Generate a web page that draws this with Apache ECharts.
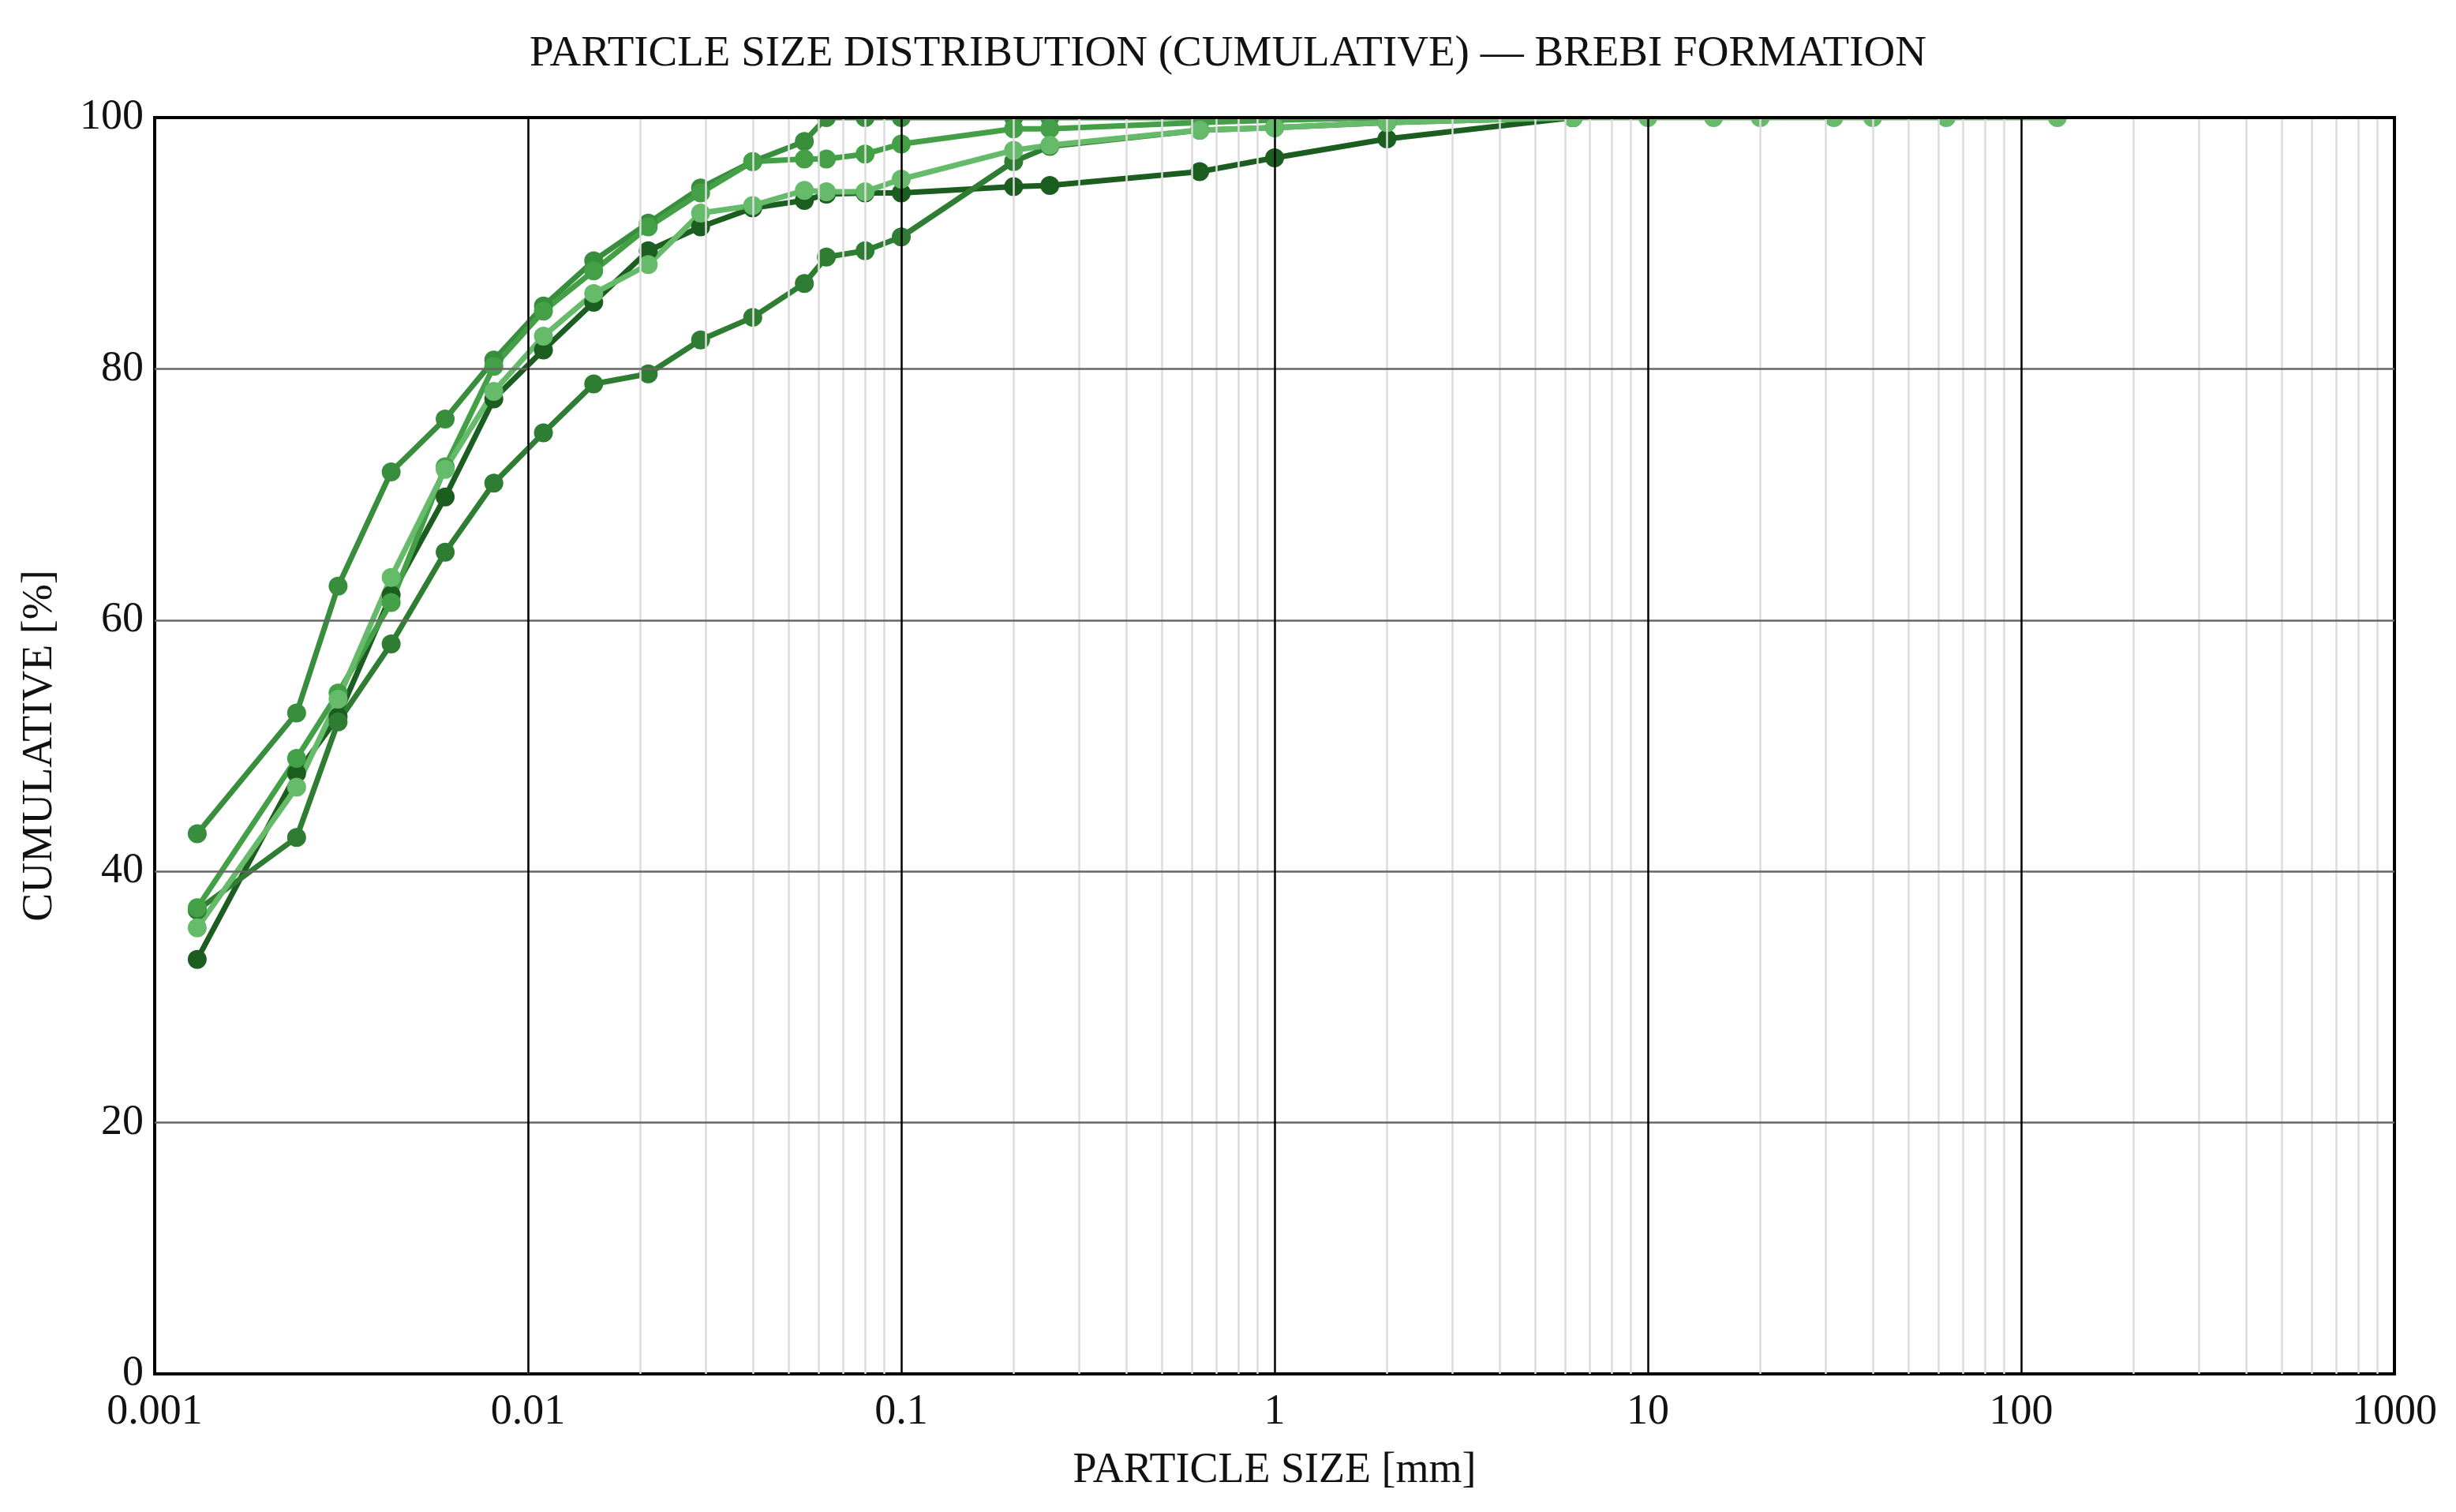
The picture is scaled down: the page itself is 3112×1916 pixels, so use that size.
<!DOCTYPE html>
<html>
<head>
<meta charset="utf-8">
<title>Particle size distribution</title>
<script src="https://cdn.jsdelivr.net/npm/echarts@6/dist/echarts.min.js"></script>
<style>
  html, body { margin: 0; padding: 0; background: #fff; }
  #chart { width: 3112px; height: 1916px; }
</style>
</head>
<body>
<div id="chart"></div>
<script>
// sieve / hydrometer sizes [mm]
const sizes = [0.0013, 0.0024, 0.0031, 0.0043, 0.006, 0.0081, 0.011, 0.015, 0.021, 0.029, 0.04, 0.055, 0.063, 0.08, 0.1, 0.2, 0.25, 0.63, 1, 2, 6.3, 10, 15, 20, 31.5, 40, 63, 125];

// cumulative passing [%] per sample (null = not measured)
const sampleA = [33.0, 47.8, 52.3, 62.0, 69.8, 77.6, 81.5, 85.3, 89.4, 91.3, 92.8, 93.4, 93.9, 94.0, 94.0, 94.5, 94.6, 95.7, 96.8, 98.3, 100, null, null, null, null, null, null, null];
const sampleB = [43.0, 52.6, 62.7, 71.8, 76.0, 80.7, 85.0, 88.6, 91.6, 94.4, 96.5, 98.1, 100, 100, 100, 100, 100, 100, 100, 100, 100, null, null, null, null, null, null, null];
const sampleC = [36.9, 42.7, 51.9, 58.1, 65.4, 70.9, 74.9, 78.8, 79.6, 82.3, 84.1, 86.8, 88.9, 89.4, 90.5, 96.5, 97.7, 99.0, 99.2, 99.6, 100, null, null, null, null, null, null, null];
const sampleD = [37.1, 49.0, 54.2, 61.4, 72.2, 80.2, 84.6, 87.8, 91.3, 94.0, 96.5, 96.7, 96.7, 97.1, 97.9, 99.1, 99.1, 99.6, 99.8, 100, 100, null, null, null, null, null, null, null];
const sampleE = [35.5, 46.7, 53.7, 63.4, 72.0, 78.2, 82.6, 86.0, 88.3, 92.4, 93.0, 94.2, 94.1, 94.1, 95.1, 97.4, 97.8, 99.0, 99.2, 99.6, 100, 100, 100, 100, 100, 100, 100, 100];

const xTickLabels = ['0.001', '0.01', '0.1', '1', '10', '100', '1000'];
const yTicks = [0, 20, 40, 60, 80, 100];

// draw order: darkest first, lightest on top
const samples = [
  { values: sampleA, color: '#1b5e20' },
  { values: sampleC, color: '#2e7d32' },
  { values: sampleB, color: '#388e3c' },
  { values: sampleD, color: '#43a047' },
  { values: sampleE, color: '#66bb6a' },
];

const FONT = '"Liberation Serif", "DejaVu Serif", serif';
const GRID = { left: 196, right: 78, top: 149, bottom: 175 };

const chart = echarts.init(document.getElementById('chart'));

const toPairs = (vals) => sizes.map((s, i) => [s, vals[i]]).filter(p => p[1] != null);

// grid lines: minor log lines (2..9), horizontal value lines, decade lines
const decades = xTickLabels.map(Number);
const minorLines = [];
decades.slice(0, -1).forEach(d => {
  for (let k = 2; k <= 9; k++) minorLines.push({ xAxis: d * k, lineStyle: { color: '#dcdcdc', width: 2.5, type: 'solid' } });
});
const hLines = yTicks.slice(1, -1).map(v => ({ yAxis: v, lineStyle: { color: '#666', width: 2.5, type: 'solid' } }));
const majorLines = decades.slice(1, -1).map(d => ({ xAxis: d, lineStyle: { color: '#000', width: 2.5, type: 'solid' } }));

const gridSeries = {
  type: 'line',
  z: 1,
  silent: true,
  symbol: 'none',
  lineStyle: { width: 0 },
  data: [[1, 50]],
  markLine: {
    silent: true,
    symbol: 'none',
    label: { show: false },
    animation: false,
    data: [...minorLines, ...hLines, ...majorLines],
  },
};

const dataSeries = samples.map(s => ({
  type: 'line',
  z: 3,
  data: toPairs(s.values),
  symbol: 'circle',
  symbolSize: 24,
  showSymbol: true,
  clip: false,
  itemStyle: { color: s.color },
  lineStyle: { color: s.color, width: 7 },
}));

chart.setOption({
  animation: false,
  backgroundColor: '#fff',
  title: {
    text: 'PARTICLE SIZE DISTRIBUTION (CUMULATIVE) — BREBI FORMATION',
    left: 'center',
    top: 36,
    textStyle: { fontFamily: FONT, fontSize: 55, fontWeight: 'normal', color: '#111' },
  },
  grid: { ...GRID, show: true, borderColor: '#000', borderWidth: 4, backgroundColor: '#fff' },
  xAxis: {
    type: 'log',
    logBase: 10,
    min: 0.001,
    max: 1000,
    splitNumber: 6,
    name: 'PARTICLE SIZE [mm]',
    nameLocation: 'middle',
    nameGap: 96,
    nameTextStyle: { fontFamily: FONT, fontSize: 54, color: '#111' },
    axisLine: { show: false },
    axisTick: { show: false },
    splitLine: { show: false },
    axisLabel: {
      fontFamily: FONT, fontSize: 54, color: '#111', margin: 22,
      formatter: v => xTickLabels[Math.round(Math.log10(v)) + 3] ?? '',
    },
  },
  yAxis: {
    type: 'value',
    min: 0,
    max: 100,
    interval: 20,
    name: 'CUMULATIVE [%]',
    nameLocation: 'middle',
    nameGap: 118,
    nameTextStyle: { fontFamily: FONT, fontSize: 54, color: '#111' },
    axisLine: { show: false },
    axisTick: { show: false },
    splitLine: { show: false },
    axisLabel: { fontFamily: FONT, fontSize: 54, color: '#111', margin: 14 },
  },
  // the top frame hides the upper half of markers sitting at 100 %
  graphic: [
    {
      type: 'rect', z: 100, silent: true,
      shape: { x: GRID.left - 3, y: GRID.top - 16, width: 3112 - GRID.left - GRID.right + 6, height: 16 },
      style: { fill: '#fff' },
    },
    {
      type: 'line', z: 101, silent: true,
      shape: { x1: GRID.left - 2, y1: GRID.top, x2: 3112 - GRID.right + 2, y2: GRID.top },
      style: { stroke: '#000', lineWidth: 4 },
    },
  ],
  series: [gridSeries, ...dataSeries],
});
</script>
</body>
</html>
